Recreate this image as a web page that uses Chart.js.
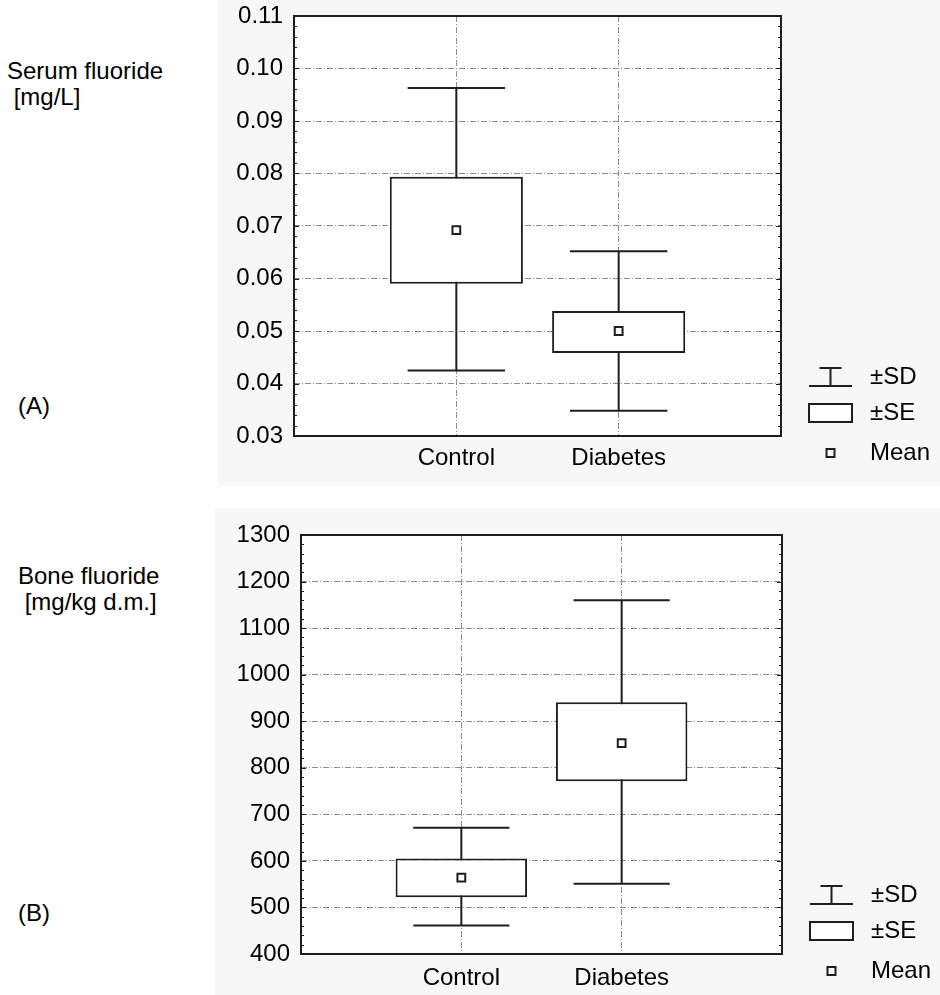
<!DOCTYPE html>
<html>
<head>
<meta charset="utf-8">
<script src="https://cdn.jsdelivr.net/npm/chart.js@4.4.1/dist/chart.umd.min.js"></script>
<style>
  html, body { margin: 0; padding: 0; background: #fff; }
  body { width: 940px; height: 995px; position: relative; overflow: hidden;
         font-family: "Liberation Sans", Arial, sans-serif; }
  .panel { position: absolute; background: #f7f7f7; }
  .lbl { position: absolute; font-size: 24px; line-height: 28px; color: #000; white-space: pre; }
</style>
</head>
<body>
<div class="lbl" style="left:7px; top:57px">Serum fluoride</div>
<div class="lbl" style="left:7px; top:83px"> [mg/L]</div>
<div class="lbl" style="left:18px; top:392px">(A)</div>
<div class="lbl" style="left:18px; top:562px">Bone fluoride</div>
<div class="lbl" style="left:18px; top:588px"> [mg/kg d.m.]</div>
<div class="lbl" style="left:18px; top:899px">(B)</div>

<div class="panel" style="left:218px; top:0; width:722px; height:486px"><canvas id="chartA"></canvas></div>
<div class="panel" style="left:215px; top:508px; width:725px; height:487px"><canvas id="chartB"></canvas></div>

<script>
// ── data ────────────────────────────────────
const groups = ['Control', 'Diabetes'];

// (A) serum fluoride [mg/L]
const serumMean   = [0.0692, 0.0500];
const serumSeLow  = [0.0590, 0.0458];
const serumSeHigh = [0.0794, 0.0538];
const serumSdLow  = [0.0425, 0.0348];
const serumSdHigh = [0.0963, 0.0652];
const serumTicks  = ['0.03', '0.04', '0.05', '0.06', '0.07', '0.08', '0.09', '0.10', '0.11'];

// (B) bone fluoride [mg/kg d.m.]
const boneMean   = [564, 853];
const boneSeLow  = [522, 771];
const boneSeHigh = [605, 941];
const boneSdLow  = [461, 551];
const boneSdHigh = [671, 1160];
const boneTicks  = ['400', '500', '600', '700', '800', '900', '1000', '1100', '1200', '1300'];

// ── style ───────────────────────────────────
const INK = '#1e1e1e';
const GRID = '#8c8c8c';
const FONT = '"Liberation Sans", Arial, sans-serif';
const BOX_HALF = 0.41;   // half width of the ±SE box, in group units
const CAP_HALF = 0.30;   // half width of the ±SD whisker caps

const framePlugin = {
  id: 'frame',
  beforeDraw(chart) {
    const { ctx, chartArea: a } = chart;
    ctx.save();
    ctx.fillStyle = '#fff';
    ctx.fillRect(a.left, a.top, a.width, a.height);
    ctx.restore();
  },
  afterDatasetsDraw(chart) {
    const { ctx, chartArea: a, scales: { y } } = chart;
    ctx.save();
    ctx.strokeStyle = INK;
    ctx.lineWidth = 1;
    const step = y.options.ticks.stepSize / 5;
    const n = Math.round((y.max - y.min) / step);
    ctx.beginPath();
    for (let i = 0; i <= n; i++) {
      const py = Math.round(y.getPixelForValue(y.min + i * step)) + 0.5;
      const len = i % 5 === 0 ? 5 : 3;
      ctx.moveTo(a.left, py); ctx.lineTo(a.left + len, py);
      ctx.moveTo(a.right - len, py); ctx.lineTo(a.right, py);
    }
    ctx.stroke();
    ctx.lineWidth = 2;
    ctx.strokeRect(a.left, a.top, a.width, a.height);
    ctx.restore();
  },
};

const legendPlugin = {
  id: 'sdseLegend',
  afterDraw(chart) {
    const { ctx, chartArea: a } = chart;
    const x0 = a.right + 28, x1 = a.right + 71, xm = (x0 + x1) / 2, tx = a.right + 89;
    const rows = [a.bottom - 59, a.bottom - 23, a.bottom + 17];
    ctx.save();
    ctx.strokeStyle = INK;
    ctx.lineWidth = 2;
    // ±SD whisker icon
    ctx.beginPath();
    ctx.moveTo(xm - 11, rows[0] - 9); ctx.lineTo(xm + 11, rows[0] - 9);
    ctx.moveTo(xm, rows[0] - 9); ctx.lineTo(xm, rows[0] + 9);
    ctx.moveTo(x0, rows[0] + 9); ctx.lineTo(x1, rows[0] + 9);
    ctx.stroke();
    // ±SE box icon
    ctx.fillStyle = '#fff';
    ctx.fillRect(x0, rows[1] - 9, x1 - x0, 18);
    ctx.strokeRect(x0, rows[1] - 9, x1 - x0, 18);
    // mean marker
    ctx.strokeRect(xm - 4, rows[2] - 4, 8, 8);
    ctx.fillStyle = '#000';
    ctx.font = `24px ${FONT}`;
    ctx.textBaseline = 'middle';
    ctx.fillText('\u00b1SD', tx, rows[0]);
    ctx.fillText('\u00b1SE', tx, rows[1]);
    ctx.fillText('Mean', tx, rows[2]);
    ctx.restore();
  },
};

function makeBoxChart(canvas, d, geom) {
  const slots = ['', ...groups, ''];
  const tickMin = Number(d.ticks[0]);
  const tickStep = Number(d.ticks[1]) - tickMin;
  const tickMax = Number(d.ticks[d.ticks.length - 1]);

  const whiskers = [];
  groups.forEach((g, i) => {
    const x = i + 1;
    whiskers.push(
      { x: x - CAP_HALF, y: d.sdHigh[i] }, { x: x + CAP_HALF, y: d.sdHigh[i] }, { x, y: null },
      { x, y: d.sdHigh[i] }, { x, y: d.sdLow[i] }, { x, y: null },
      { x: x - CAP_HALF, y: d.sdLow[i] }, { x: x + CAP_HALF, y: d.sdLow[i] }, { x, y: null },
    );
  });

  return new Chart(canvas.getContext('2d'), {
    type: 'bar',
    data: {
      datasets: [
        {
          type: 'line',
          label: '±SD',
          data: whiskers,
          borderColor: INK,
          borderWidth: 2,
          pointRadius: 0,
          spanGaps: false,
          order: 3,
        },
        {
          type: 'bar',
          label: '±SE',
          data: groups.map((g, i) => ({ x: i + 1, y: [d.seLow[i], d.seHigh[i]] })),
          backgroundColor: '#fff',
          borderColor: INK,
          borderWidth: 2,
          borderSkipped: false,
          categoryPercentage: 1,
          barPercentage: BOX_HALF * 2,
          order: 2,
        },
        {
          type: 'scatter',
          label: 'Mean',
          data: groups.map((g, i) => ({ x: i + 1, y: d.mean[i] })),
          pointStyle: 'rect',
          pointRadius: 5.5,
          pointBorderWidth: 2,
          pointBackgroundColor: '#fff',
          pointBorderColor: INK,
          order: 1,
        },
      ],
    },
    options: {
      responsive: true,
      maintainAspectRatio: false,
      animation: false,
      events: [],
      layout: { padding: { left: 0, top: geom.top, right: geom.right, bottom: 0 } },
      plugins: { legend: { display: false }, tooltip: { enabled: false } },
      scales: {
        x: {
          type: 'linear',
          min: 0,
          max: slots.length - 1,
          offset: false,
          grid: { color: GRID, lineWidth: 1, drawTicks: false, offset: false },
          border: { display: false, dash: [6, 2, 1, 2] },
          ticks: {
            stepSize: 1,
            autoSkip: false,
            maxRotation: 0,
            padding: geom.xPad,
            color: '#000',
            font: { family: FONT, size: 24 },
            callback: (v) => slots[v] ?? '',
          },
          afterFit: (s) => { s.height = geom.xHeight; },
        },
        y: {
          min: tickMin,
          max: tickMax,
          grid: { color: GRID, lineWidth: 1, drawTicks: false },
          border: { display: false, dash: [6, 2, 1, 2] },
          ticks: {
            stepSize: tickStep,
            padding: 11,
            color: '#000',
            font: { family: FONT, size: 24 },
            callback: (v) => d.ticks[Math.round((v - tickMin) / tickStep)] ?? '',
          },
          afterFit: (s) => {
            s.width = geom.yWidth;
            s.paddingTop = 0;
            s.paddingBottom = 0;
          },
        },
      },
    },
    plugins: [framePlugin, legendPlugin],
  });
}

makeBoxChart(document.getElementById('chartA'), {
  mean: serumMean, seLow: serumSeLow, seHigh: serumSeHigh,
  sdLow: serumSdLow, sdHigh: serumSdHigh, ticks: serumTicks,
}, { top: 16, right: 159, yWidth: 76, xHeight: 50, xPad: 8 });

makeBoxChart(document.getElementById('chartB'), {
  mean: boneMean, seLow: boneSeLow, seHigh: boneSeHigh,
  sdLow: boneSdLow, sdHigh: boneSdHigh, ticks: boneTicks,
}, { top: 27, right: 158, yWidth: 86, xHeight: 41, xPad: 10 });
</script>
</body>
</html>
